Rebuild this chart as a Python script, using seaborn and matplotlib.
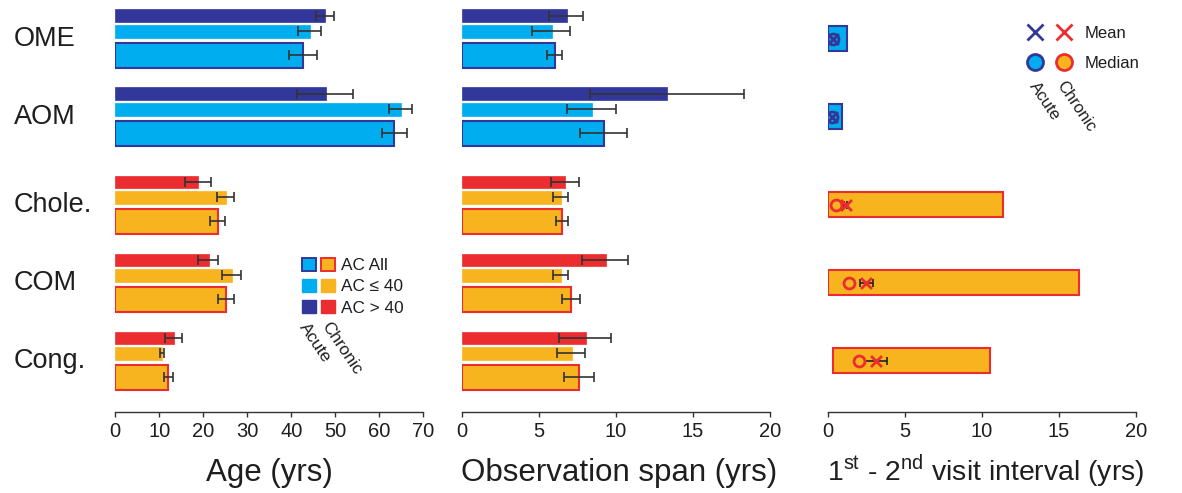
import numpy as np
import pandas as pd
import seaborn as sns
import matplotlib.pyplot as plt
from matplotlib.transforms import blended_transform_factory
from matplotlib.lines import Line2D
from matplotlib.patches import Patch
from matplotlib.legend_handler import HandlerTuple

sns.set_style('white')
plt.rcParams['font.family'] = ['Liberation Sans', 'DejaVu Sans']
plt.rcParams['mathtext.fontset'] = 'custom'
plt.rcParams['mathtext.rm'] = 'Liberation Sans'

# ---- data ----
categories = ['OME', 'AOM', 'Chole.', 'COM', 'Cong.']
acute = [True, True, False, False, False]

# age (yrs): value, error bar low / high
age_all = [42.6, 63.3, 23.4, 25.1, 12.0]
age_all_lo = [39.5, 60.5, 21.6, 23.3, 11.0]
age_all_hi = [45.8, 66.3, 24.9, 26.9, 13.0]
age_le40 = [44.3, 65.0, 25.2, 26.6, 10.7]
age_le40_lo = [41.5, 62.3, 23.0, 24.3, 10.1]
age_le40_hi = [46.7, 67.5, 27.0, 28.6, 11.0]
age_gt40 = [47.7, 47.8, 18.9, 21.2, 13.4]
age_gt40_lo = [45.6, 41.2, 15.9, 18.9, 11.4]
age_gt40_hi = [49.6, 54.1, 21.7, 23.3, 15.1]

# observation span (yrs)
span_all = [6.05, 9.23, 6.5, 7.09, 7.63]
span_all_lo = [5.51, 7.69, 6.10, 6.48, 6.61]
span_all_hi = [6.5, 10.72, 6.92, 7.69, 8.6]
span_le40 = [5.84, 8.45, 6.44, 6.44, 7.13]
span_le40_lo = [4.58, 6.81, 5.90, 5.90, 6.2]
span_le40_hi = [7.02, 10.0, 6.92, 6.92, 8.02]
span_gt40 = [6.85, 13.34, 6.72, 9.34, 8.04]
span_gt40_lo = [5.68, 8.3, 5.79, 7.8, 6.29]
span_gt40_hi = [7.89, 18.31, 7.61, 10.81, 9.71]

# 1st - 2nd visit interval (yrs): range bar, median, mean with error
visit_min = [0.0, 0.0, 0.0, 0.0, 0.32]
visit_max = [1.23, 0.95, 11.35, 16.28, 10.52]
visit_median = [0.37, 0.26, 0.54, 1.38, 2.01]
visit_mean = [0.37, 0.26, 1.19, 2.48, 3.11]
visit_mean_lo = [0.30, 0.20, 1.08, 2.09, 2.38]
visit_mean_hi = [0.44, 0.32, 1.25, 2.92, 3.83]

# ---- styling ----
navy = '#32379A'
cyan = '#00AEEF'
orange = '#F8B41E'
red = '#EC2D2F'
txt = '#1E1E1E'
acute_col = {'all': cyan, 'le40': cyan, 'gt40': navy}
chronic_col = {'all': orange, 'le40': orange, 'gt40': red}

acute = np.array(acute)
ypos = np.arange(len(categories)) + np.where(acute, 0, 0.132)
# offset, height of each bar within a group
layout = {'gt40': (-0.292, 0.163), 'le40': (-0.094, 0.165), 'all': (0.214, 0.32)}

fig = plt.figure(figsize=(11.82, 4.93), dpi=100)
W, H = 1182, 493
ax_bottom = 1 - 411.7 / H
ax_h = 411.7 / H
ax1 = fig.add_axes([115.3 / W, ax_bottom, 308 / W, ax_h])
ax2 = fig.add_axes([461.7 / W, ax_bottom, 308.3 / W, ax_h])
ax3 = fig.add_axes([827.7 / W, ax_bottom, 308.3 / W, ax_h])


def draw_bars(ax, series):
    for kind, vals, lo, hi in series:
        vals, lo, hi = map(np.asarray, (vals, lo, hi))
        off, h = layout[kind]
        y = ypos + off
        face = [acute_col[kind] if a else chronic_col[kind] for a in acute]
        if kind == 'all':
            edge = [navy if a else red for a in acute]
            lw = 1.5
        else:
            edge = face
            lw = 0.5
        ax.barh(y, vals, height=h, color=face, edgecolor=edge, linewidth=lw)
        ax.errorbar(vals, y, xerr=[np.abs(vals - lo), np.abs(hi - vals)],
                    fmt='none', ecolor='#333333', elinewidth=1.2,
                    capsize=3.4, capthick=1.2)


draw_bars(ax1, [('gt40', age_gt40, age_gt40_lo, age_gt40_hi),
                ('le40', age_le40, age_le40_lo, age_le40_hi),
                ('all', age_all, age_all_lo, age_all_hi)])
draw_bars(ax2, [('gt40', span_gt40, span_gt40_lo, span_gt40_hi),
                ('le40', span_le40, span_le40_lo, span_le40_hi),
                ('all', span_all, span_all_lo, span_all_hi)])

# third panel: range bars with median / mean markers
vmin = np.asarray(visit_min)
vmax = np.asarray(visit_max)
face3 = [cyan if a else orange for a in acute]
edge3 = [navy if a else red for a in acute]
ax3.barh(ypos, vmax - vmin, left=vmin, height=0.32, color=face3,
         edgecolor=edge3, linewidth=1.5)
vmean = np.asarray(visit_mean)
ax3.errorbar(vmean, ypos,
             xerr=[vmean - np.asarray(visit_mean_lo), np.asarray(visit_mean_hi) - vmean],
             fmt='none', ecolor='#222222', elinewidth=1.2, capsize=3, capthick=1.2)
pts = pd.DataFrame({'median': visit_median, 'mean': visit_mean, 'y': ypos,
                    'acute': acute})
for is_acute, fc, ec in [(True, cyan, navy), (False, orange, red)]:
    sub = pts[pts['acute'] == is_acute]
    sns.scatterplot(data=sub, x='median', y='y', ax=ax3, marker='o', s=62,
                    facecolor=fc, edgecolor=ec, linewidth=2, zorder=4)
    ax3.scatter(sub['mean'], sub['y'], marker='x', s=62, color=ec,
                linewidths=2, zorder=5)

ylim = (4.785, -0.494)
for ax, xmax, ticks in [(ax1, 70, np.arange(0, 71, 10)),
                        (ax2, 20, np.arange(0, 21, 5)),
                        (ax3, 20, np.arange(0, 21, 5))]:
    ax.set_xlim(0, xmax)
    ax.set_ylim(*ylim)
    ax.set_xticks(ticks)
    ax.set_yticks([])
    ax.set_xlabel('')
    ax.set_ylabel('')
    sns.despine(ax=ax, left=True)
    ax.spines['bottom'].set_color('#333333')
    ax.spines['bottom'].set_linewidth(1.0)
    ax.tick_params(axis='x', direction='out', length=3.5, width=1.0,
                   color='#333333', labelsize=14.5, pad=4, labelcolor=txt,
                   bottom=True)

# axis titles, on a common baseline
base = 1 - 481 / H
fig.text(269.3 / W, base, 'Age (yrs)', ha='center', va='baseline',
         fontsize=22.5, color=txt)
fig.text(619 / W, base, 'Observation span (yrs)', ha='center', va='baseline',
         fontsize=22.5, color=txt)
fig.text(985.7 / W, base, '1$^{\\mathrm{st}}$ - 2$^{\\mathrm{nd}}$ visit interval (yrs)',
         ha='center', va='baseline', fontsize=20.4, color=txt)

# category labels
tr = blended_transform_factory(fig.transFigure, ax1.transData)
for name, y in zip(categories, ypos):
    ax1.text(14 / W, y, name, transform=tr, ha='left', va='center',
             fontsize=19.5, color=txt)

# legend panel 1
h_all = (Patch(facecolor=cyan, edgecolor=navy, linewidth=1.4),
         Patch(facecolor=orange, edgecolor=red, linewidth=1.4))
h_le = (Patch(facecolor=cyan, edgecolor=cyan), Patch(facecolor=orange, edgecolor=orange))
h_gt = (Patch(facecolor=navy, edgecolor=navy), Patch(facecolor=red, edgecolor=red))
ax1.legend([h_all, h_le, h_gt], ['AC All', 'AC \u2264 40', 'AC > 40'],
           handler_map={tuple: HandlerTuple(ndivide=None, pad=0.27)},
           loc='upper left', bbox_to_anchor=(301.7 / W, 1 - 257.5 / H),
           bbox_transform=fig.transFigure, frameon=False, fontsize=12.4,
           borderpad=0, borderaxespad=0, handlelength=1.92, handleheight=0.83,
           handletextpad=0.385, labelspacing=0.32, labelcolor=txt)
fig.text(309 / W, 1 - 320 / H, 'Acute', rotation=-56, rotation_mode='anchor',
         ha='left', va='top', fontsize=12.4, color=txt)
fig.text(331 / W, 1 - 319 / H, 'Chronic', rotation=-56, rotation_mode='anchor',
         ha='left', va='top', fontsize=12.4, color=txt)

# legend panel 3
m_mean = (Line2D([], [], ls='none', marker='x', ms=11, mew=2, color=navy),
          Line2D([], [], ls='none', marker='x', ms=11, mew=2, color=red))
m_med = (Line2D([], [], ls='none', marker='o', ms=11.5, mew=2, mfc=cyan, mec=navy),
         Line2D([], [], ls='none', marker='o', ms=11.5, mew=2, mfc=orange, mec=red))
ax3.legend([m_mean, m_med], ['Mean', 'Median'],
           handler_map={tuple: HandlerTuple(ndivide=None, pad=0.6)},
           loc='upper left', bbox_to_anchor=(1026 / W, 1 - 25.7 / H),
           bbox_transform=fig.transFigure, frameon=False, fontsize=12,
           borderpad=0, borderaxespad=0, handlelength=2.8, handletextpad=0.74,
           labelspacing=0.93, labelcolor=txt)
fig.text(1039 / W, 1 - 79 / H, 'Acute', rotation=-56, rotation_mode='anchor',
         ha='left', va='top', fontsize=12, color=txt)
fig.text(1066 / W, 1 - 78 / H, 'Chronic', rotation=-56, rotation_mode='anchor',
         ha='left', va='top', fontsize=12, color=txt)

fig.savefig('out.png', dpi=100)
